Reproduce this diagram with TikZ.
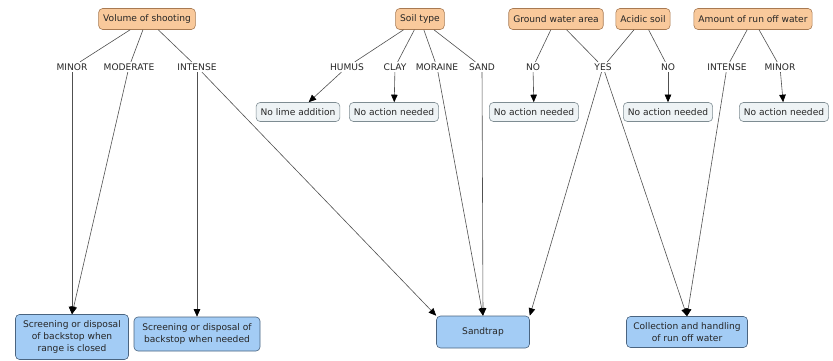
\documentclass[tikz,border=0pt]{standalone}
\usepackage{fontspec}
\setmainfont{DejaVu Sans}
\usetikzlibrary{arrows.meta}
\definecolor{topfill}{HTML}{F9C99B}
\definecolor{topdraw}{HTML}{A87A52}
\definecolor{midfill}{HTML}{EEF3F5}
\definecolor{middraw}{HTML}{7E8C92}
\definecolor{botfill}{HTML}{A3CCF5}
\definecolor{botdraw}{HTML}{4A6480}
\definecolor{linec}{HTML}{505050}
\tikzset{
  every node/.style={font=\fontsize{9.1}{11.6}\selectfont, text=black!85},
  topbox/.style={draw=topdraw, fill=topfill, rounded corners=4pt, minimum height=21pt, inner xsep=4.5pt, line width=0.6pt},
  midbox/.style={draw=middraw, fill=midfill, rounded corners=4pt, minimum height=19pt, inner xsep=4.5pt, line width=0.6pt},
  botbox/.style={draw=botdraw, fill=botfill, rounded corners=4pt, align=center, line width=0.6pt},
  lbl/.style={inner sep=1.5pt},
  conn/.style={draw=linec, line width=0.6pt},
  arr/.style={conn, -{Triangle[length=7.5pt,width=6.5pt,color=black]}},
}
\begin{document}
\begin{tikzpicture}[x=1pt,y=-1pt]
\useasboundingbox (0,0) rectangle (833,361);
% top
\node[topbox] (vol) at (147,19) {Volume of shooting};
\node[topbox] (soil) at (420,19) {Soil type};
\node[topbox] (gw) at (556,19) {Ground water area};
\node[topbox] (acid) at (643,19) {Acidic soil};
\node[topbox] (run) at (753,19) {Amount of run off water};
% labels
\node[lbl] (minorA) at (72,67) {MINOR};
\node[lbl] (moderate) at (129,67) {MODERATE};
\node[lbl] (intenseA) at (197,67) {INTENSE};
\node[lbl] (humus) at (347,67) {HUMUS};
\node[lbl] (clay) at (395,67) {CLAY};
\node[lbl] (moraine) at (437,67) {MORAINE};
\node[lbl] (sandl) at (482,67) {SAND};
\node[lbl] (noA) at (533,67) {NO};
\node[lbl] (yes) at (603,67) {YES};
\node[lbl] (noB) at (668,67) {NO};
\node[lbl] (intenseB) at (727,67) {INTENSE};
\node[lbl] (minorB) at (780,67) {MINOR};
% middle
\node[midbox] (nolime) at (298,112) {No lime addition};
\node[midbox] (naA) at (394,112) {No action needed};
\node[midbox] (naB) at (534,112) {No action needed};
\node[midbox] (naC) at (668,112) {No action needed};
\node[midbox] (naD) at (784,112) {No action needed};
% bottom
\node[botbox, minimum width=113pt, minimum height=45pt] (scrA) at (72,337) {Screening or disposal\\of backstop when\\range is closed};
\node[botbox, minimum width=126pt, minimum height=34pt] (scrB) at (197,334) {Screening or disposal of\\backstop when needed};
\node[botbox, minimum width=93pt, minimum height=32pt] (sand) at (483,332) {Sandtrap};
\node[botbox, minimum width=121pt, minimum height=31pt] (coll) at (687,332) {Collection and handling\\of run off water};
% connectors top -> labels
\draw[conn] (vol) -- (minorA);
\draw[conn] (vol) -- (moderate);
\draw[conn] (vol) -- (intenseA);
\draw[conn] (soil) -- (humus);
\draw[conn] (soil) -- (clay);
\draw[conn] (soil) -- (moraine);
\draw[conn] (soil) -- (sandl);
\draw[conn] (gw) -- (noA);
\draw[conn] (gw) -- (yes);
\draw[conn] (acid) -- (yes);
\draw[conn] (acid) -- (noB);
\draw[conn] (run) -- (intenseB);
\draw[conn] (run) -- (minorB);
% labels -> targets
\draw[arr] (minorA) -- (scrA.north);
\draw[arr] (moderate) -- (scrA.north);
\draw[arr] (intenseA) -- (scrB.north);
\draw[arr] (intenseA) -- (sand.north west);
\draw[arr] (humus) -- (nolime);
\draw[arr] (clay) -- (naA);
\draw[arr] (moraine) -- (sand.north);
\draw[arr] (sandl) -- (sand.north);
\draw[arr] (noA) -- (naB);
\draw[arr] (yes) -- (sand.north east);
\draw[arr] (yes) -- (coll.north);
\draw[arr] (noB) -- (naC);
\draw[arr] (intenseB) -- (coll.north);
\draw[arr] (minorB) -- (naD);
\end{tikzpicture}
\end{document}
